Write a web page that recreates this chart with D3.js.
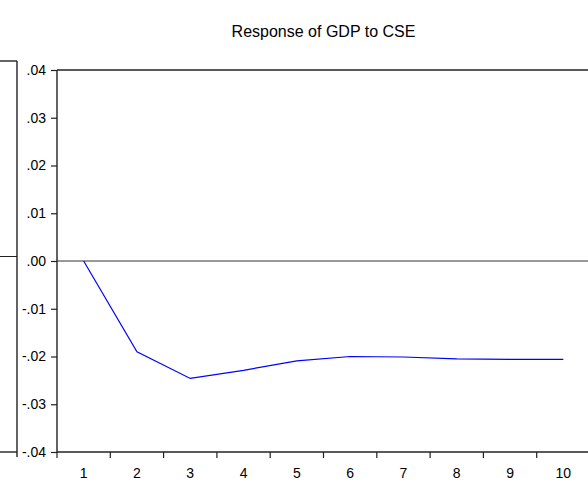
<!DOCTYPE html>
<html>
<head>
<meta charset="utf-8">
<script src="https://cdn.jsdelivr.net/npm/d3@7"></script>
<style>
  html, body { margin: 0; padding: 0; background: #fff; }
  svg { display: block; }
  text { font-family: "Liberation Sans", Arial, sans-serif; fill: #000; }
</style>
</head>
<body>
<script>
// Impulse response: periods and response of GDP to a CSE shock
const periods = [1, 2, 3, 4, 5, 6, 7, 8, 9, 10];
const response = [0.0, -0.0190, -0.0246, -0.0229, -0.0209, -0.0200, -0.0201, -0.0205, -0.0206, -0.0206];
const yTicks = [0.04, 0.03, 0.02, 0.01, 0.00, -0.01, -0.02, -0.03, -0.04];
const yTickLabels = [".04", ".03", ".02", ".01", ".00", "-.01", "-.02", "-.03", "-.04"];
const title = "Response of GDP to CSE";

const W = 588, H = 482;
const svg = d3.select("body").append("svg").attr("width", W).attr("height", H);

const plotLeft = 57, plotRight = 590, plotTop = 70, plotBottom = 452;
const tickFont = 14;

const x = d3.scaleBand().domain(periods).range([plotLeft, plotRight]).padding(0);
const y = d3.scaleLinear().domain([-0.04, 0.04]).range([plotBottom, plotTop]);

// Neighbouring panel (right edge only visible)
const prevY = d3.scaleLinear().domain([-1, 1]).range([452, 61]);
const prevRight = 17;
const prev = svg.append("g").attr("stroke", "#222").attr("fill", "none");
prev.append("line").attr("x1", prevRight).attr("x2", prevRight)
  .attr("y1", prevY(1)).attr("y2", prevY(-1) + 5).attr("stroke-width", 1.4);
prev.append("line").attr("x1", 0).attr("x2", prevRight)
  .attr("y1", prevY(1)).attr("y2", prevY(1)).attr("stroke-width", 1.4);
prev.append("line").attr("x1", 0).attr("x2", prevRight)
  .attr("y1", prevY(0)).attr("y2", prevY(0)).attr("stroke-width", 1);
prev.append("line").attr("x1", 0).attr("x2", prevRight)
  .attr("y1", prevY(-1)).attr("y2", prevY(-1)).attr("stroke-width", 1.4);

// Title
svg.append("text")
  .attr("x", (plotLeft + plotRight) / 2).attr("y", 37)
  .attr("text-anchor", "middle")
  .attr("font-size", 16)
  .text(title);

// Zero reference line
svg.append("line")
  .attr("x1", plotLeft).attr("x2", plotRight)
  .attr("y1", y(0)).attr("y2", y(0))
  .attr("stroke", "#333").attr("stroke-width", 1);

// Frame
const frame = svg.append("g").attr("stroke", "#222").attr("stroke-width", 1.4).attr("fill", "none");
frame.append("line").attr("x1", plotLeft).attr("x2", plotRight).attr("y1", plotTop).attr("y2", plotTop);
frame.append("line").attr("x1", plotLeft).attr("x2", plotRight).attr("y1", plotBottom).attr("y2", plotBottom);
frame.append("line").attr("x1", plotLeft).attr("x2", plotLeft).attr("y1", plotTop).attr("y2", plotBottom);
frame.append("line").attr("x1", plotRight).attr("x2", plotRight).attr("y1", plotTop).attr("y2", plotBottom);

// Y axis
const yAxis = d3.axisLeft(y)
  .tickValues(yTicks)
  .tickFormat((d, i) => yTickLabels[i])
  .tickSize(6)
  .tickPadding(5);
const gy = svg.append("g").attr("transform", `translate(${plotLeft},0)`).call(yAxis);
gy.select(".domain").remove();
gy.selectAll(".tick line").attr("stroke", "#222").attr("stroke-width", 1.2);
gy.selectAll(".tick text").attr("font-size", tickFont)
  .style("font-family", "'Liberation Sans', Arial, sans-serif");

// X axis: labels centred in each period, ticks on period boundaries
const xAxis = d3.axisBottom(x).tickSize(0).tickPadding(16.5);
const gx = svg.append("g").attr("transform", `translate(0,${plotBottom})`).call(xAxis);
gx.select(".domain").remove();
gx.selectAll(".tick text").attr("font-size", tickFont)
  .style("font-family", "'Liberation Sans', Arial, sans-serif");
gx.selectAll(".bound")
  .data(periods)
  .enter().append("line")
  .attr("class", "bound")
  .attr("x1", d => x(d)).attr("x2", d => x(d))
  .attr("y1", 0).attr("y2", 6)
  .attr("stroke", "#222").attr("stroke-width", 1.2);

// Response line
const line = d3.line()
  .x((d, i) => x(periods[i]) + x.bandwidth() / 2)
  .y(d => y(d));
svg.append("path")
  .datum(response)
  .attr("d", line)
  .attr("fill", "none")
  .attr("stroke", "#0000ff")
  .attr("stroke-width", 1.2);
</script>
</body>
</html>
